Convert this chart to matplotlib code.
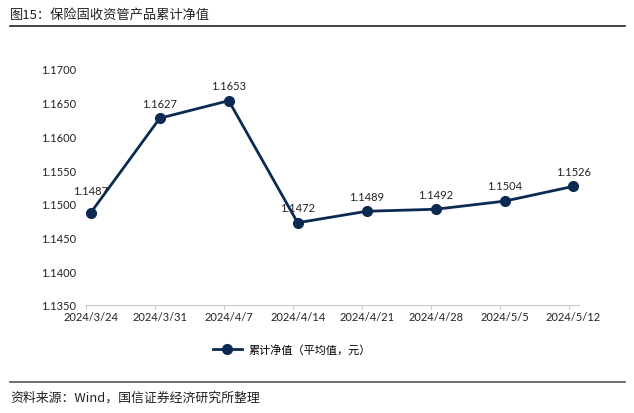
import matplotlib
matplotlib.use("Agg")
import matplotlib.pyplot as plt
import numpy as np

dates = ["2024/3/24", "2024/3/31", "2024/4/7", "2024/4/14", "2024/4/21", "2024/4/28", "2024/5/5", "2024/5/12"]
values = [1.1487, 1.1627, 1.1653, 1.1472, 1.1489, 1.1492, 1.1504, 1.1526]
yticks = [1.135, 1.140, 1.145, 1.150, 1.155, 1.160, 1.165, 1.170]
series_name = "累计净值（平均值，元）"
title = "图15：保险固收资管产品累计净值"
source = "资料来源：Wind，国信证券经济研究所整理"

W, H = 634, 414
fig = plt.figure(figsize=(W / 100, H / 100), dpi=100)
cjk = ["Noto Sans CJK SC", "DejaVu Sans"]
num = ["Lato", "Noto Sans CJK SC"]
color = "#0b2a52"

ax = fig.add_axes([86 / W, (H - 306) / H, (579 - 86) / W, (306 - 70) / H])
x = np.arange(len(dates))
ax.plot(x, values, color=color, lw=2, marker="o", ms=7, label=series_name, zorder=3)
for i, (xi, v) in enumerate(zip(x, values)):
    off = 12 if i == 0 else 7
    ax.annotate(f"{v:.4f}", (xi, v), xytext=(0, off), textcoords="offset points",
                ha="center", va="bottom", fontsize=8, family=num, color="#222222")

ax.set_ylim(1.135, 1.170)
ax.set_yticks(yticks)
ax.set_yticklabels([f"{t:.4f}" for t in yticks], family=num, fontsize=8, color="#222222")
ax.tick_params(axis="y", length=0, pad=7)

ax.set_xlim(-0.07, 7.08)
ax.set_xticks(x - 0.07)
ax.set_xticklabels([])
ax.tick_params(axis="x", which="major", length=3, color="#c8c8c8", width=0.8)
ax.set_xticks(x, minor=True)
ax.set_xticklabels(dates, minor=True, family=num, fontsize=8, color="#222222")
ax.tick_params(axis="x", which="minor", length=0, pad=4)

for s in ["top", "right", "left"]:
    ax.spines[s].set_visible(False)
ax.spines["bottom"].set_color("#c8c8c8")
ax.spines["bottom"].set_linewidth(0.8)

leg = fig.legend(loc="center", bbox_to_anchor=(292 / W, (H - 350) / H), frameon=False,
                 prop={"family": cjk, "size": 8}, handlelength=2.6, handletextpad=0.6)

fig.text(10 / W, (H - 15) / H, title, family=cjk, fontsize=9.5, fontweight="medium",
         ha="left", va="center", color="#222222")
fig.add_artist(plt.Line2D([10 / W, 625 / W], [(H - 27) / H] * 2, color="#222222", lw=1.2))
fig.add_artist(plt.Line2D([10 / W, 625 / W], [(H - 383) / H] * 2, color="#555555", lw=1.2))
fig.text(10 / W, (H - 398) / H, source, family=cjk, fontsize=9.3,
         ha="left", va="center", color="#222222")

fig.savefig("out.png", dpi=100)
